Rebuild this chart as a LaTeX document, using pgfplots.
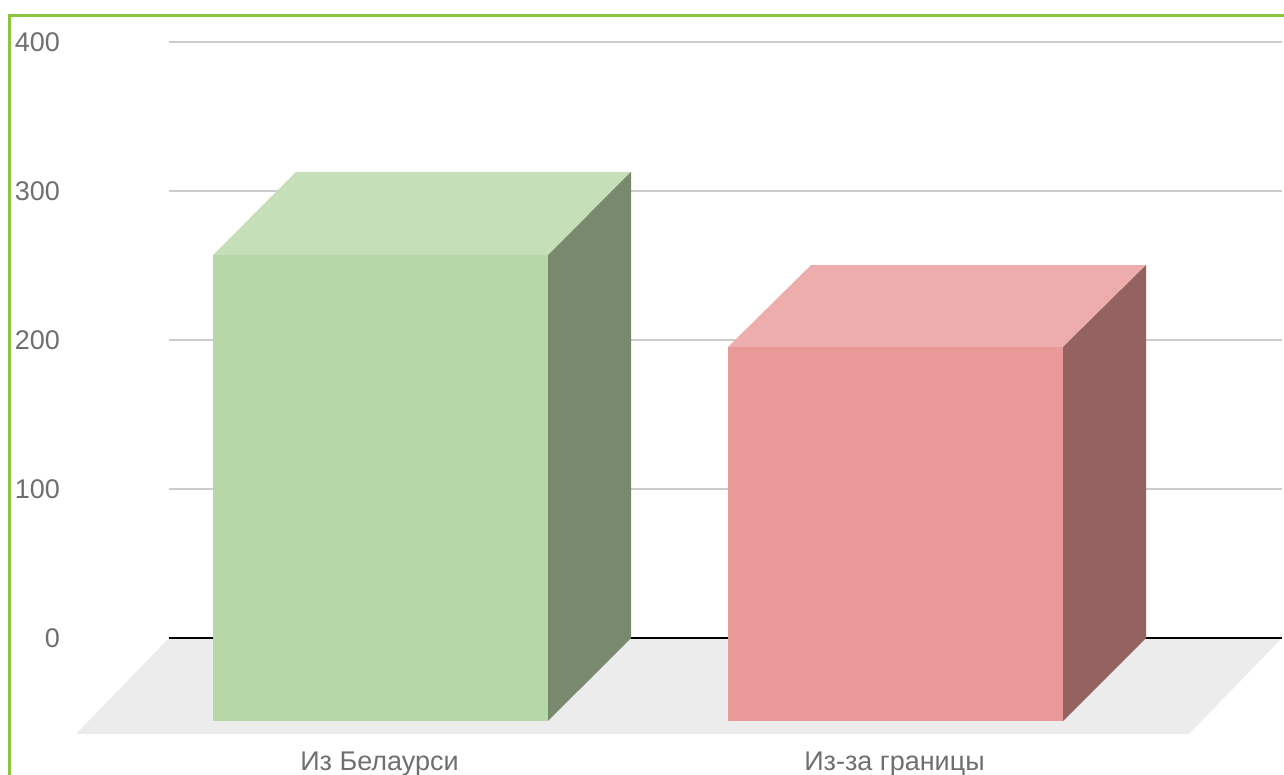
\documentclass[border=0pt]{standalone}
\usepackage{fontspec}
\setmainfont{Liberation Sans}
\usepackage{pgfplots}
\pgfplotsset{compat=1.18}
\definecolor{gridc}{HTML}{CCCCCC}
\definecolor{floorc}{HTML}{ECECEC}
\definecolor{borderc}{HTML}{8CC63F}
\definecolor{textc}{HTML}{6F6F6F}
\definecolor{gfront}{HTML}{B6D7A8}
\definecolor{gtop}{HTML}{C5DFB9}
\definecolor{gside}{HTML}{78896E}
\definecolor{rfront}{HTML}{EA9999}
\definecolor{rtop}{HTML}{EEADAD}
\definecolor{rside}{HTML}{956262}
\begin{document}
\begin{tikzpicture}[x=1pt,y=1pt]
\useasboundingbox (0,0) rectangle (1284,774);
\begin{axis}[
  at={(169pt,0pt)}, anchor=south west,
  scale only axis, width=1113pt, height=732pt,
  xmin=169, xmax=1282, ymin=-91.28, ymax=400,
  clip=false,
  axis line style={draw=none},
  major tick length=0pt,
  ymajorgrids, grid style={gridc, line width=2pt},
  ytick={0,100,200,300,400},
  xtick={379.5,894.5},
  xticklabels={Из Белаурси, Из-за границы},
  tick label style={font=\fontsize{27}{32}\selectfont, text=textc},
  yticklabel style={/pgf/number format/assume math mode=true, anchor=east, xshift=-105.5pt, yshift=-3pt},
  xticklabel style={anchor=base, yshift=4pt},
  typeset ticklabels with strut,
]
% floor
\addplot[fill=floorc, draw=none] coordinates {(169,0) (1282,0) (1189,-64.4) (76,-64.4)} -- cycle;
% zero line
\addplot[black, line width=2pt] coordinates {(169,0) (1282,0)};
% green bar
\addplot[fill=gfront, draw=none] coordinates {(213,-55.7) (548,-55.7) (548,257) (213,257)} -- cycle;
\addplot[fill=gtop, draw=none] coordinates {(213,257) (548,257) (631,312.8) (296,312.8)} -- cycle;
\addplot[fill=gside, draw=none] coordinates {(548,-55.7) (631,0) (631,312.8) (548,257)} -- cycle;
% red bar
\addplot[fill=rfront, draw=none] coordinates {(728,-55.7) (1063,-55.7) (1063,195.3) (728,195.3)} -- cycle;
\addplot[fill=rtop, draw=none] coordinates {(728,195.3) (1063,195.3) (1146,250.3) (811,250.3)} -- cycle;
\addplot[fill=rside, draw=none] coordinates {(1063,-55.7) (1146,0) (1146,250.3) (1063,195.3)} -- cycle;
% frame
\addplot[borderc, line width=3pt] coordinates {(9.5,-100) (9.5,418.1) (1300,418.1)};
\end{axis}
\end{tikzpicture}
\end{document}
